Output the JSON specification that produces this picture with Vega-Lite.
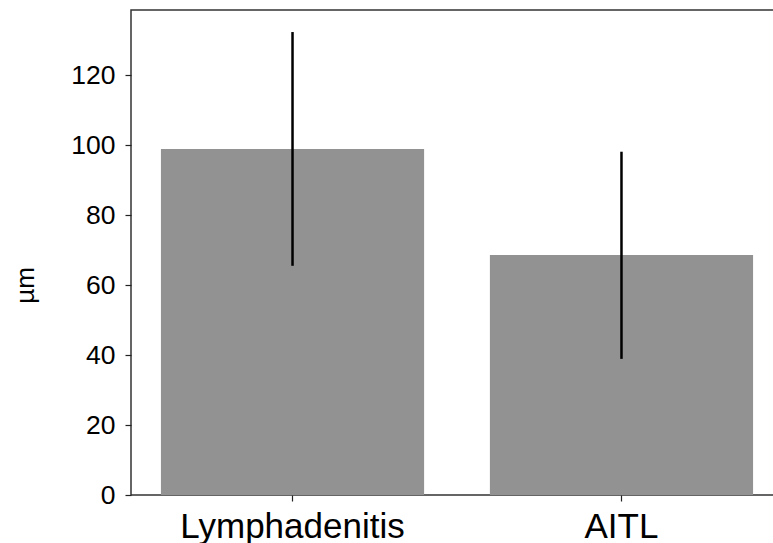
{
  "$schema": "https://vega.github.io/schema/vega-lite/v6.json",
  "autosize": {"type": "none"},
  "padding": {"left": 131, "top": 10, "right": 0, "bottom": 48},
  "width": 652,
  "height": 485,
  "background": "white",
  "config": {
    "font": "Liberation Sans",
    "view": {"stroke": "#333333", "strokeWidth": 1.5},
    "axis": {"grid": false, "domain": false, "tickColor": "#222222", "tickWidth": 1.2, "tickSize": 6, "labelColor": "#000000", "titleColor": "#000000", "labelFont": "Liberation Sans", "titleFont": "Liberation Sans", "titleFontWeight": "normal", "labelLimit": 0}
  },
  "data": {
    "values": [
      {"group": "Lymphadenitis", "mean": 98.9, "lo": 65.5, "hi": 132.3},
      {"group": "AITL", "mean": 68.6, "lo": 38.9, "hi": 98.1}
    ]
  },
  "layer": [
    {
      "mark": {"type": "bar", "color": "#929292"},
      "encoding": {
        "x": {"field": "group", "type": "nominal", "sort": null,
              "scale": {"paddingInner": 0.2, "paddingOuter": 0.091},
              "axis": {"title": null, "labelAngle": 0, "labelFontSize": 35, "labelPadding": 36, "labelBaseline": "alphabetic", "labelLimit": 0}},
        "y": {"field": "mean", "type": "quantitative",
              "scale": {"domain": [0, 138.6], "nice": false, "zero": true},
              "axis": {"title": "µm", "values": [0, 20, 40, 60, 80, 100, 120], "labelFontSize": 26.5, "labelPadding": 10, "titleFontSize": 26, "titleX": -98, "titleY": 275, "titleBaseline": "alphabetic", "titleAngle": -90}}
      }
    },
    {
      "mark": {"type": "rule", "color": "#000000", "strokeWidth": 2.5},
      "encoding": {
        "x": {"field": "group", "type": "nominal", "sort": null},
        "y": {"field": "lo", "type": "quantitative"},
        "y2": {"field": "hi"}
      }
    }
  ]
}
